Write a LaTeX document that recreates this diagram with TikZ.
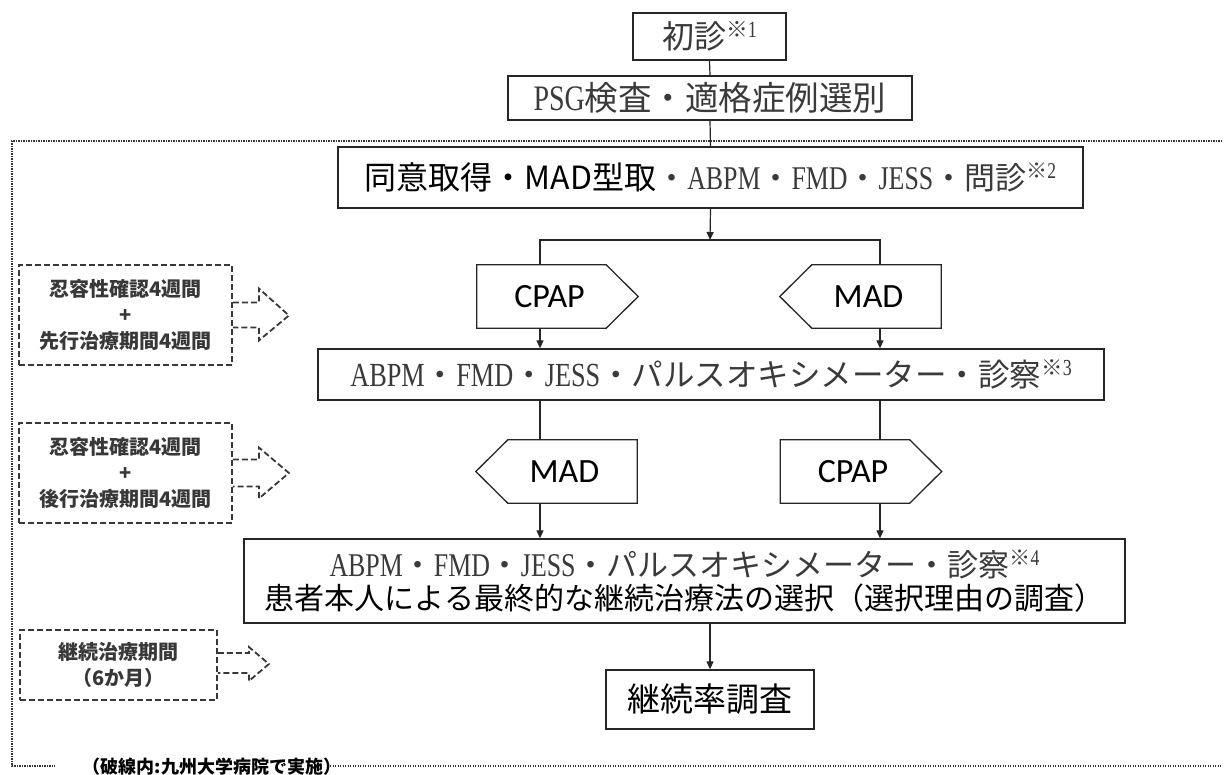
\documentclass[tikz,border=0pt]{standalone}
\usepackage{graphicx}
\usepackage{fontspec}
\setmainfont{Noto Sans CJK JP}
\newfontfamily\serfont{Liberation Serif}[Scale=1.07,FakeStretch=0.78]
\newfontfamily\calfont{Carlito}
\usetikzlibrary{arrows.meta}
\definecolor{minc}{HTML}{3A3A3A}
\definecolor{dgray}{HTML}{383838}
\newcommand\sz[1]{\fontsize{#1}{#1}\selectfont}
\newcommand\lat[1]{{\serfont #1}}
\newcommand\note[1]{\raisebox{0.36em}{\scalebox{0.68}{※\serfont #1}}}
\tikzset{
  box/.style={draw=black!85, line width=1.3pt, inner sep=0pt},
  pent/.style={inner sep=0pt, minimum width=129pt, minimum height=63pt, font=\calfont\sz{34}},
  pentline/.style={draw=black!85, line width=1.3pt, line join=miter},
  conn/.style={draw=black!85, line width=1.2pt},
  arr/.style={conn, -{Triangle[length=8pt,width=7pt]}},
  dbox/.style={draw=dgray, line width=1.8pt, dash pattern=on 6pt off 3pt, text=dgray,
    font=\fontsize{20}{26}\selectfont\bfseries, align=center, text width=190pt,
    inner xsep=0pt, inner ysep=0pt},
  darr/.style={draw=dgray, line width=1.8pt, dash pattern=on 6pt off 3pt},
  frame/.style={draw=black!80, line width=1.5pt, dash pattern=on 1.3pt off 1.2pt},
}
\begin{document}
\begin{tikzpicture}[x=1pt,y=-1pt]
\useasboundingbox[fill=white] (0,0) rectangle (1226,775);
% frame
\coordinate (fTL) at (12,141);
\coordinate (fTR) at (1222,141);
\coordinate (fBL) at (12,766);
\coordinate (fB1) at (55,766);
\coordinate (fB2) at (330,766);
\coordinate (fBR) at (1222,766);
\draw[frame] (fTR) -- (fTL) -- (fBL) -- (fB1);
\draw[frame] (fB2) -- (fBR);
\node[font=\sz{18}\bfseries, inner sep=0pt] (lab) at (212,767) {（破線内:九州大学病院で実施）};

% main boxes
\node[box, minimum width=153pt, minimum height=47pt] (init) at (709.5,36.5)
  {\sz{32}\color{minc}初診\note{1}};
\node[box, minimum width=404pt, minimum height=44pt] (psg) at (710,98)
  {\sz{33.5}\color{minc}\lat{PSG}検査・適格症例選別};
\node[box, minimum width=745pt, minimum height=61pt] (consent) at (710.5,177.5)
  {{\sz{32}同意取得・MAD型取}{\sz{31}\color{minc}・\lat{ABPM}・\lat{FMD}・\lat{JESS}・問診\note{2}}};
\node[box, minimum width=786pt, minimum height=51pt] (exam1) at (711,374.5)
  {\sz{31.5}\color{minc}\lat{ABPM}・\lat{FMD}・\lat{JESS}・パルスオキシメーター・診察\note{3}};
\node[box, minimum width=881pt, minimum height=84pt, align=center] (final) at (684.5,581)
  {{\sz{31}\color{minc}\lat{ABPM}・\lat{FMD}・\lat{JESS}・パルスオキシメーター・診察\note{4}}\\[3pt]
   {\sz{30}患者本人による最終的な継続治療法の選択（選択理由の調査）}};
\node[box, minimum width=208pt, minimum height=59pt] (cont) at (710,699.5)
  {\sz{33}継続率調査};

% pentagons (body nodes)
\node[pent] (cpapA) at (541.5,296.5) {\hspace*{16pt}CPAP};
\node[pent] (madA) at (876.5,296.5) {MAD\hspace*{16pt}};
\node[pent] (madB) at (572.5,471.5) {MAD\hspace*{16pt}};
\node[pent] (cpapB) at (845,471.5) {\hspace*{16pt}CPAP};
\draw[pentline] (cpapA.north west) -- (cpapA.north east) -- ([xshift=32pt]cpapA.east) -- (cpapA.south east) -- (cpapA.south west) -- cycle;
\draw[pentline] (cpapB.north west) -- (cpapB.north east) -- ([xshift=32pt]cpapB.east) -- (cpapB.south east) -- (cpapB.south west) -- cycle;
\draw[pentline] (madA.north east) -- (madA.north west) -- ([xshift=-32pt]madA.west) -- (madA.south west) -- (madA.south east) -- cycle;
\draw[pentline] (madB.north east) -- (madB.north west) -- ([xshift=-32pt]madB.west) -- (madB.south west) -- (madB.south east) -- cycle;

% connectors
\coordinate (branch) at (710,240);
\coordinate (colL) at (540,240);
\coordinate (colR) at (880,240);
\draw[conn] (init.south) -- (psg.north);
\draw[conn] (psg.south) -- (consent.north);
\draw[arr] (consent.south) -- (branch);
\draw[conn] (cpapA.north -| colL) -- (colL) -- (colR) -- (madA.north -| colR);
\draw[arr] (cpapA.south -| colL) -- (exam1.north -| colL);
\draw[arr] (madA.south -| colR) -- (exam1.north -| colR);
\draw[conn] (exam1.south -| colL) -- (madB.north -| colL);
\draw[conn] (exam1.south -| colR) -- (cpapB.north -| colR);
\draw[arr] (madB.south -| colL) -- (final.north -| colL);
\draw[arr] (cpapB.south -| colR) -- (final.north -| colR);
\draw[arr] (final.south -| cont.north) -- (cont.north);

% dashed side boxes
\node[dbox, minimum width=213pt, minimum height=100pt] (d1) at (125.5,315)
  {忍容性確認4週間\\+\\先行治療期間4週間};
\node[dbox, minimum width=213pt, minimum height=100pt] (d2) at (125.5,473)
  {忍容性確認4週間\\+\\後行治療期間4週間};
\node[dbox, minimum width=197pt, minimum height=70pt, text width=180pt] (d3) at (118.5,665)
  {継続治療期間\\（6か月）};
\draw[darr] ([yshift=12.5pt]d1.east) -- ++(26,0) -- ++(0,-14) -- ++(30,27) -- ++(-30,25) -- ++(0,-13) -- ++(-26,0);
\draw[darr] ([yshift=13.5pt]d2.east) -- ++(26,0) -- ++(0,-12) -- ++(30,25.5) -- ++(-30,25.5) -- ++(0,-12) -- ++(-26,0);
\draw[darr] ([yshift=12pt]d3.east) -- ++(31,0) -- ++(0,-6) -- ++(20,17) -- ++(-20,17) -- ++(0,-8) -- ++(-31,0);
\end{tikzpicture}
\end{document}
